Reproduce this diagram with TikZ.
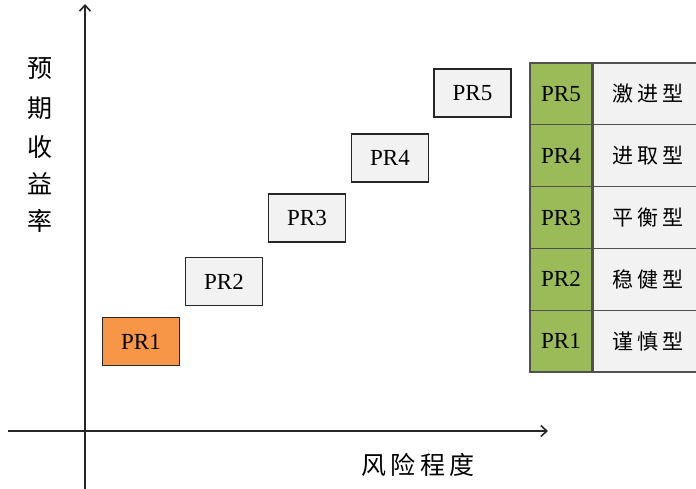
\documentclass[tikz,border=0pt]{standalone}
\usepackage{fontspec}
\setmainfont{Liberation Serif}
\newfontfamily\cjk[LetterSpace=18]{Noto Sans CJK SC}
\newfontfamily\cjkax{Noto Sans CJK SC}
\usetikzlibrary{arrows.meta}
\definecolor{orangefill}{HTML}{F79646}
\definecolor{greenfill}{HTML}{9BBB59}
\definecolor{greyfill}{HTML}{F2F2F2}
\definecolor{edge}{HTML}{262626}
\tikzset{
  axis/.style={line width=2pt, draw=edge, -{Straight Barb[length=6pt,width=11pt,line width=1.6pt]}},
  prbox/.style={draw=edge, line width=1.8pt, fill=greyfill, minimum width=77pt, minimum height=48pt, inner sep=0pt, font=\fontsize{23}{23}\selectfont},
  greencell/.style={draw=edge!80, line width=1.2pt, fill=greenfill, minimum width=62pt, minimum height=61.8pt, inner sep=0pt, font=\fontsize{23}{23}\selectfont},
  greycell/.style={draw=edge!80, line width=1.2pt, fill=greyfill, minimum width=110pt, minimum height=61.8pt, inner sep=0pt, font=\cjk\fontsize{21}{21}\selectfont},
  axlabel/.style={font=\cjkax\fontsize{25}{25}\selectfont, inner sep=0pt},
}
\begin{document}
\begin{tikzpicture}[x=1pt,y=-1pt]
\useasboundingbox (0,0) rectangle (696,488);
% axes
\coordinate (yb) at (85,492);
\coordinate (yt) at (85,4);
\coordinate (xl) at (8,431);
\coordinate (xr) at (548,431);
\draw[axis] (yb) -- (yt);
\draw[axis] (xl) -- (xr);
% axis labels
\node[axlabel] (l1) at (40,69) {预};
\node[axlabel] (l2) at (40,108) {期};
\node[axlabel] (l3) at (40,147) {收};
\node[axlabel] (l4) at (40,184) {益};
\node[axlabel] (l5) at (40,221) {率};
\node[font=\cjk\fontsize{25}{25}\selectfont, inner sep=0pt] (xlab) at (418,465) {风险程度};
% boxes
\node[prbox, fill=orangefill] (p1) at (141,341.5) {PR1};
\node[prbox] (p2) at (224,281.5) {PR2};
\node[prbox] (p3) at (307,218) {PR3};
\node[prbox] (p4) at (390,158) {PR4};
\node[prbox] (p5) at (472.5,93) {PR5};
% table
\node[greencell] (g5) at (561,93.9) {PR5};
\node[greencell] (g4) at (561,155.7) {PR4};
\node[greencell] (g3) at (561,217.5) {PR3};
\node[greencell] (g2) at (561,279.3) {PR2};
\node[greencell] (g1) at (561,341.1) {PR1};
\node[greycell, anchor=west] (t5) at (g5.east) {激进型};
\node[greycell, anchor=west] (t4) at (g4.east) {进取型};
\node[greycell, anchor=west] (t3) at (g3.east) {平衡型};
\node[greycell, anchor=west] (t2) at (g2.east) {稳健型};
\node[greycell, anchor=west] (t1) at (g1.east) {谨慎型};
\end{tikzpicture}
\end{document}
